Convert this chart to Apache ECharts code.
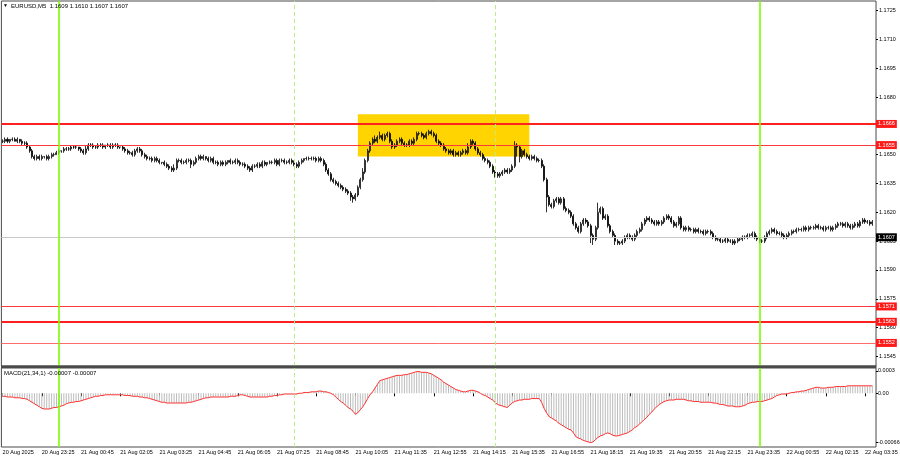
<!DOCTYPE html>
<html><head><meta charset="utf-8">
<script src="https://cdn.jsdelivr.net/npm/echarts@6/dist/echarts.min.js"></script>
<style>html,body{margin:0;padding:0;background:#fff}#c{width:900px;height:460px}</style>
</head><body><div id="c"></div>
<script>
// ---------------- data ----------------
const symbolTitle = 'EURUSD,M5  1.1609 1.1610 1.1607 1.1607';
const macdTitle = 'MACD(21,34,1) -0.00007 -0.00007';
const BASE = 1.1600; // candle values below are pips above BASE
const opens = [
57,57,58,57,58,58,57,58,57,56, 56,54,52,49,48,49,48,49,49,48, 49,50,50,51,52,52,53,53,53,54,
54,54,53,52,51,53,55,55,54,54, 55,55,54,55,55,54,55,55,54,54, 53,52,51,51,50,52,53,52,50,49,
48,48,47,48,47,46,46,45,44,43, 42,43,47,47,46,46,47,47,45,46, 48,49,48,49,48,47,48,46,46,45,
46,45,46,47,46,46,47,46,45,45, 44,43,42,44,44,45,44,46,45,46, 46,46,47,45,47,47,46,46,47,46,
45,44,46,47,48,48,48,48,48,47, 48,47,45,42,40,37,36,35,34,33, 32,31,30,28,27,29,33,37,41,47,
52,56,58,57,59,60,58,60,61,57, 54,55,57,58,56,55,55,57,56,58, 61,61,60,59,61,62,61,60,57,56,
55,53,52,51,52,50,51,50,51,52, 51,54,57,56,53,51,50,48,47,46, 44,41,40,39,40,41,42,41,42,44,
55,54,49,52,50,49,48,49,48,47, 47,44,37,28,24,23,26,27,25,27, 22,21,20,18,14,12,10,14,16,15,
13,8,6,12,20,22,17,18,13,10, 8,5,4,4,5,7,8,7,6,8, 10,11,14,16,17,16,15,14,15,14,
15,17,18,17,15,13,14,17,12,11, 12,11,11,10,11,10,10,9,10,10, 9,7,6,6,5,5,6,5,5,4,
5,6,6,7,7,8,8,9,7,6, 5,5,7,9,10,11,10,9,9,8, 7,8,9,10,10,11,11,11,12,11,
12,12,12,13,12,12,11,12,12,11, 12,13,14,14,13,14,13,12,13,14, 13,15,16,15,15,14];
const closes = [
57,58,57,58,58,57,58,57,56,56, 54,52,49,48,49,48,49,49,48,49, 50,50,51,52,52,53,53,53,54,54,
54,53,52,51,53,55,55,54,54,55, 55,54,55,55,54,55,55,54,54,53, 52,51,51,50,52,53,52,50,49,48,
48,47,48,47,46,46,45,44,43,42, 43,47,47,46,46,47,47,45,46,48, 49,48,49,48,47,48,46,46,45,46,
45,46,47,46,46,47,46,45,45,44, 43,42,44,44,45,44,46,45,46,46, 46,47,45,47,47,46,46,47,46,45,
44,46,47,48,48,48,48,48,47,48, 47,45,42,40,37,36,35,34,33,32, 31,30,28,27,29,33,37,41,47,52,
56,58,57,59,60,58,60,61,57,54, 55,57,58,56,55,55,57,56,58,61, 61,60,59,61,62,61,60,57,56,55,
53,52,51,52,50,51,50,51,52,51, 54,57,56,53,51,50,48,47,46,44, 41,40,39,40,41,42,41,42,44,55,
54,49,52,50,49,48,49,48,47,47, 44,37,28,24,23,26,27,25,27,22, 21,20,18,14,12,10,14,16,15,13,
8,6,12,20,22,17,18,13,10,8, 5,4,4,5,7,8,7,6,8,10, 11,14,16,17,16,15,14,15,14,15,
17,18,17,15,13,14,17,12,11,12, 11,11,10,11,10,10,9,10,10,9, 7,6,6,5,5,6,5,5,4,5,
6,6,7,7,8,8,9,7,6,5, 5,7,9,10,11,10,9,9,8,7, 8,9,10,10,11,11,11,12,11,12,
12,12,13,12,12,11,12,12,11,12, 13,14,14,13,14,13,12,13,14,13, 15,16,15,15,14,15];
const wickUp = [
1,1,1,0,1,1,1,0,1,1, 1,1,1,1,1,1,1,0,1,1, 1,1,1,1,0,1,1,1,1,1,
1,0,1,1,2,1,1,1,1,1, 1,1,0,1,1,1,1,1,0,1, 1,1,1,1,1,1,1,1,1,1,
1,1,1,1,1,0,1,1,1,1, 2,1,1,1,1,1,1,1,1,1, 1,1,1,0,1,1,1,1,1,1,
1,1,0,1,1,1,1,1,1,1, 1,1,1,1,1,1,1,1,0,1, 1,1,1,1,1,1,1,1,1,1,
1,1,1,0,1,1,1,1,1,1, 1,1,1,1,1,1,1,1,1,1, 1,1,1,1,1,1,1,2,1,1,
1,1,2,1,2,1,1,1,1,1, 1,1,1,1,1,1,1,1,1,1, 1,1,1,1,1,1,1,1,1,1,
1,1,1,1,1,1,1,1,1,1, 2,1,1,1,1,1,1,1,1,1, 1,1,1,1,1,1,1,1,1,2,
1,1,1,1,1,1,1,1,1,1, 1,1,1,1,1,1,1,1,1,1, 1,1,1,1,1,1,1,1,1,1,
1,1,1,5,1,1,1,1,1,1, 1,1,1,1,1,1,1,1,1,1, 1,1,1,1,1,1,1,1,1,1,
1,1,1,1,1,1,1,1,1,1, 1,1,1,1,1,1,1,1,1,1, 1,1,1,1,1,1,1,1,1,1,
1,1,1,1,1,1,1,1,1,1, 1,1,1,1,1,1,1,1,1,1, 1,1,1,1,1,1,1,1,1,1,
1,1,1,1,1,1,1,1,1,1, 1,1,1,1,1,1,1,1,1,1, 1,1,1,1,1,1];
const wickDn = [
1,1,1,1,1,0,1,1,1,1, 1,1,1,1,1,1,1,1,1,1, 1,1,0,1,1,1,1,1,1,1,
1,1,1,1,1,1,1,1,1,1, 1,1,1,1,1,1,1,1,1,1, 1,1,1,1,1,1,1,1,1,1,
1,1,1,1,1,1,1,1,1,1, 1,1,1,1,1,1,1,2,1,1, 1,1,1,1,1,1,1,1,1,1,
1,1,1,1,1,1,1,1,1,1, 1,1,1,1,1,1,1,1,1,1, 1,1,1,1,1,1,1,1,1,1,
1,1,1,1,1,1,1,1,1,1, 1,1,1,1,1,1,1,1,1,1, 1,1,2,2,1,1,1,1,1,1,
1,1,1,1,1,1,1,1,1,1, 1,1,1,1,1,1,1,1,1,1, 1,1,1,1,1,1,1,1,1,1,
1,1,1,1,1,1,1,1,1,1, 1,1,1,1,1,1,1,1,1,1, 1,2,1,1,1,1,1,1,1,1,
5,3,1,1,1,1,1,1,1,1, 1,1,8,1,1,1,1,1,1,1, 1,1,1,1,1,1,1,1,1,1,
4,3,1,1,1,1,1,1,1,1, 2,1,1,1,1,1,1,1,1,1, 1,1,1,1,1,1,1,1,1,1,
1,1,1,1,1,1,1,1,1,1, 1,1,1,1,1,1,1,1,1,1, 1,1,1,1,1,1,1,1,1,1,
1,1,1,1,1,1,1,1,1,1, 1,1,1,1,1,1,1,1,1,1, 1,1,1,1,1,1,1,1,1,1,
1,1,1,1,1,1,1,1,1,1, 1,1,1,1,1,1,1,1,1,1, 1,1,1,1,1,1];
// MACD main (= signal, period 1) in units of 0.00001
const macd = [
-4,-4,-5,-5,-5,-6,-6,-6,-7,-7, -8,-10,-12,-14,-16,-18,-20,-21,-21,-21, -20,-19,-19,-18,-17,-16,-14,-13,-12,-12,
-11,-11,-10,-9,-8,-7,-6,-5,-4,-4, -3,-3,-2,-2,-2,-2,-2,-2,-2,-2, -3,-3,-3,-4,-4,-4,-5,-5,-6,-6,
-7,-8,-9,-10,-11,-12,-12,-13,-13,-13, -13,-13,-13,-13,-13,-13,-12,-12,-11,-10, -9,-8,-7,-6,-6,-5,-5,-5,-5,-5,
-5,-5,-5,-4,-4,-4,-3,-2,-2,-3, -4,-5,-5,-5,-5,-5,-5,-5,-5,-4, -4,-3,-3,-2,-2,-1,-1,-1,-1,-1,
-1,0,0,1,1,1,2,2,2,3, 3,2,2,1,0,-2,-5,-8,-11,-13, -16,-19,-21,-24,-28,-26,-22,-18,-13,-7,
-2,2,7,12,17,18,19,20,21,22, 23,24,24,24,25,25,26,27,28,29, 29,28,28,28,27,26,24,22,20,18,
15,13,11,9,7,5,4,3,2,2, 3,4,4,3,2,0,-2,-3,-5,-7, -9,-12,-15,-16,-17,-18,-19,-16,-13,-11,
-10,-9,-9,-8,-8,-8,-7,-7,-7,-7, -12,-20,-26,-31,-33,-35,-37,-40,-42,-44, -46,-48,-49,-53,-58,-60,-61,-63,-64,-65,
-66,-65,-62,-59,-57,-56,-54,-53,-54,-56, -57,-57,-56,-55,-54,-53,-51,-49,-46,-44, -41,-38,-35,-32,-28,-25,-21,-18,-15,-13,
-11,-10,-9,-9,-9,-8,-8,-8,-8,-9, -10,-10,-11,-11,-11,-12,-12,-12,-12,-12, -13,-13,-14,-15,-15,-16,-17,-17,-17,-18,
-18,-18,-17,-16,-14,-13,-12,-12,-11,-11, -11,-10,-9,-8,-7,-5,-3,-2,-1,-1, -1,0,1,1,2,2,3,3,4,5,
6,7,8,8,7,7,7,8,8,8, 9,9,9,9,9,10,10,10,10,10, 10,10,10,10,10,10];
const xTickLabels = ['20 Aug 2025','20 Aug 23:25','21 Aug 00:45','21 Aug 02:05','21 Aug 03:25','21 Aug 04:45',
  '21 Aug 06:05','21 Aug 07:25','21 Aug 08:45','21 Aug 10:05','21 Aug 11:35','21 Aug 12:55','21 Aug 14:15',
  '21 Aug 15:35','21 Aug 16:55','21 Aug 18:15','21 Aug 19:35','21 Aug 20:55','21 Aug 22:15','21 Aug 23:35',
  '22 Aug 00:55','22 Aug 02:15','22 Aug 03:35'];
const xTickEvery = 16;
const priceTicks = [1.1725,1.1710,1.1695,1.1680,1.1665,1.1650,1.1635,1.1620,1.1605,1.1590,1.1575,1.1560,1.1545];
const macdTicks = [0.0003, 0, -0.00066];
const macdTickLabels = ['0.0003', '0.00', '-0.00066'];
const levelPrices = [1.1666, 1.1655, 1.1571, 1.1563, 1.1552];
const levelWidths = [2, 1, 1, 2, 1];
const levelColors = ['#ff2020', '#ff3a3a', '#ff3a3a', '#ff2020', '#ff6a6a'];
const bidPrice = 1.1607;
const dayLines = ['21 Aug 00:00', '22 Aug 00:00'];
const sessionLines = ['21 Aug 08:00', '21 Aug 15:00'];
const zoneFrom = '21 Aug 10:10', zoneTo = '21 Aug 16:10', zoneTop = 1.1671, zoneBottom = 1.1649;

// ---------------- bar times (M5, two bars missing late morning of 21 Aug) ----------------
const months = ['Jan','Feb','Mar','Apr','May','Jun','Jul','Aug','Sep','Oct','Nov','Dec'];
const pad = n => (n < 10 ? '0' : '') + n;
const barTimes = [];
(function () {
  let t = Date.UTC(2025, 7, 20, 22, 5);
  const gapAt = Date.UTC(2025, 7, 21, 10, 55);
  for (let i = 0; i < closes.length + 1; i++) {
    if (t === gapAt) t += 10 * 60000;
    const d = new Date(t);
    barTimes.push(d.getUTCDate() + ' ' + months[d.getUTCMonth()] + ' ' + pad(d.getUTCHours()) + ':' + pad(d.getUTCMinutes()));
    t += 5 * 60000;
  }
})();

const px = p => +(BASE + p / 10000).toFixed(4);
const candles = closes.map((c, i) => {
  const o = opens[i];
  return [px(o), px(c), px(Math.min(o, c) - wickDn[i]), px(Math.max(o, c) + wickUp[i])];
});
const macdValues = macd.map(v => v / 100000);

// ---------------- chart ----------------
const FONT = 'Liberation Sans';
const LABEL_SIZE = 5.5;
const chart = echarts.init(document.getElementById('c'), null, { renderer: 'canvas' });
const gridLeft = 1.375, gridWidth = 874.65;
const vLines = dayLines.map(t => ({ xAxis: t, lineStyle: { color: '#7cfc00', width: 1.6, type: 'solid' } }))
  .concat(sessionLines.map(t => ({ xAxis: t, lineStyle: { color: '#b6ef86', width: 1, type: [4, 3] } })));
const tagLabel = (bg) => ({
  show: true, position: 'end', distance: 0, formatter: p => Number(p.value).toFixed(4),
  color: '#fff', backgroundColor: bg, padding: [1, 2, 0, 2], fontSize: LABEL_SIZE, fontFamily: FONT, lineHeight: 7
});

chart.setOption({
  animation: false,
  backgroundColor: '#fff',
  grid: [
    { left: gridLeft, top: 1, width: gridWidth, height: 365, show: true, borderColor: '#4a4a4a', borderWidth: 1,
      backgroundColor: 'transparent', containLabel: false, outerBoundsMode: 'none' },
    { left: gridLeft, top: 368, width: gridWidth, height: 79, show: true, borderColor: '#4a4a4a', borderWidth: 1,
      backgroundColor: 'transparent', containLabel: false, outerBoundsMode: 'none' }
  ],
  xAxis: [
    { type: 'category', gridIndex: 0, data: barTimes, boundaryGap: true,
      axisLine: { show: false }, axisTick: { show: false }, axisLabel: { show: false }, splitLine: { show: false } },
    { type: 'category', gridIndex: 1, data: barTimes, boundaryGap: true, position: 'bottom',
      axisLine: { show: false },
      axisTick: { show: true, alignWithLabel: true, length: 3, interval: i => i % xTickEvery === 0 && i < closes.length, lineStyle: { color: '#000' } },
      axisLabel: { show: true, interval: i => i % xTickEvery === 0 && i < closes.length, align: 'left', margin: 2,
        formatter: (v, i) => xTickLabels[i / xTickEvery] || '', fontSize: LABEL_SIZE, fontFamily: FONT, color: '#000' },
      splitLine: { show: false } }
  ],
  yAxis: [
    { type: 'value', gridIndex: 0, position: 'right', min: 1.1540, max: 1.1730, scale: true,
      axisLine: { show: false }, splitLine: { show: false },
      axisTick: { show: true, customValues: priceTicks, length: 2, lineStyle: { color: '#000' } },
      axisLabel: { show: true, customValues: priceTicks, formatter: v => v.toFixed(4), margin: 3,
        fontSize: LABEL_SIZE, fontFamily: FONT, color: '#000' } },
    { type: 'value', gridIndex: 1, position: 'right', min: -0.000718, max: 0.000338,
      axisLine: { show: false }, splitLine: { show: false },
      axisTick: { show: true, customValues: macdTicks, length: 2, lineStyle: { color: '#000' } },
      axisLabel: { show: true, customValues: macdTicks, margin: 2,
        formatter: v => macdTickLabels[macdTicks.findIndex(t => Math.abs(t - v) < 1e-9)] || '',
        fontSize: LABEL_SIZE, fontFamily: FONT, color: '#000' } }
  ],
  series: [
    { name: 'zone', type: 'line', xAxisIndex: 0, yAxisIndex: 0, data: [], z: 1, silent: true, symbol: 'none',
      markArea: { silent: true, itemStyle: { color: '#ffd400', opacity: 1 },
        data: [[{ xAxis: zoneFrom, yAxis: zoneTop }, { xAxis: zoneTo, yAxis: zoneBottom }]] } },
    { name: 'EURUSD', type: 'candlestick', xAxisIndex: 0, yAxisIndex: 0, data: candles, z: 3,
      barWidth: 1.5, silent: true,
      itemStyle: { color: '#ffffff', color0: '#000000', borderColor: '#000000', borderColor0: '#000000', borderWidth: 0.8 } },
    { name: 'levels', type: 'line', xAxisIndex: 0, yAxisIndex: 0, data: [], z: 4, silent: true, symbol: 'none',
      markLine: { silent: true, symbol: 'none', animation: false, precision: 4,
        data: levelPrices.map((p, i) => ({ yAxis: p, lineStyle: { color: levelColors[i], width: levelWidths[i], type: 'solid' }, label: tagLabel('#ff1a1a') }))
          .concat([{ yAxis: bidPrice, lineStyle: { color: '#c8c8c8', width: 1, type: 'solid' }, label: tagLabel('#000000') }])
          .concat(vLines.map(v => Object.assign({ label: { show: false } }, v))) } },
    { name: 'MACD', type: 'bar', xAxisIndex: 1, yAxisIndex: 1, data: macdValues, barWidth: 1, silent: true,
      itemStyle: { color: '#bcbcbc' }, z: 2 },
    { name: 'Signal', type: 'line', xAxisIndex: 1, yAxisIndex: 1, data: macdValues, symbol: 'none', silent: true,
      lineStyle: { color: '#ff3030', width: 1 }, z: 3,
      markLine: { silent: true, symbol: 'none', animation: false, data: vLines.map(v => Object.assign({ label: { show: false } }, v)) } }
  ],
  graphic: [
    { type: 'rect', shape: { x: 1, y: 365.5, width: 875.5, height: 2.5 }, style: { fill: '#4a4a4a' }, z: 10 },
    { type: 'text', x: 3, y: 6, style: { text: '▼', fontSize: 5, fontFamily: FONT, fill: '#000', verticalAlign: 'middle' }, z: 10 },
    { type: 'text', x: 11, y: 6, style: { text: symbolTitle, fontSize: 6, fontFamily: FONT, fill: '#000', verticalAlign: 'middle' }, z: 10 },
    { type: 'text', x: 4, y: 373.5, style: { text: macdTitle, fontSize: 6, fontFamily: FONT, fill: '#000', verticalAlign: 'middle' }, z: 10 }
  ]
});
</script>
</body></html>
